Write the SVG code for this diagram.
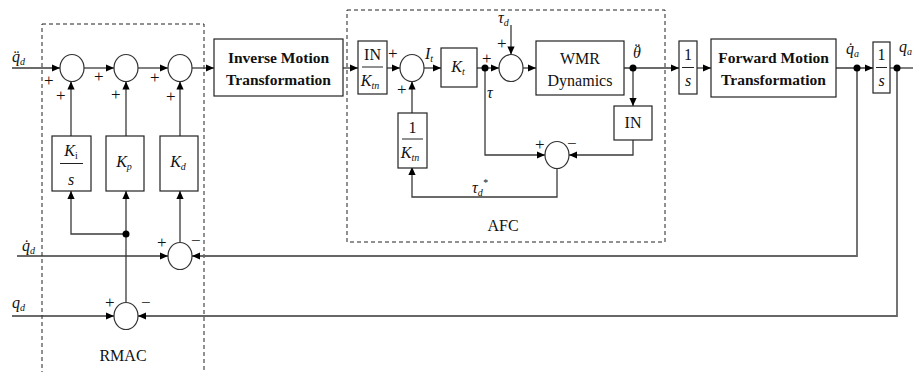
<svg xmlns="http://www.w3.org/2000/svg" width="913" height="372" viewBox="0 0 913 372" font-family="'Liberation Serif', 'DejaVu Serif', serif">
<style>
.blk{fill:#fff;stroke:#222;stroke-width:1.2}
.sum{fill:#fff;stroke:#333;stroke-width:1.2}
.ln{fill:none;stroke:#3a3a3a;stroke-width:1.3}
.fb{fill:none;stroke:#666;stroke-width:1.8}
.dash{fill:none;stroke:#222;stroke-width:1;stroke-dasharray:4,3}
text{font-family:'Liberation Serif','DejaVu Serif',serif;fill:#111}
.b{font-weight:bold;font-size:15.5px}
.r{font-size:16px}
.m{font-style:italic;font-size:16px}
.s{font-size:10px}
.pm{font-size:17px}
.dot{fill:#000}
.fl{stroke:#222;stroke-width:1}
</style>
<defs>
<marker id="ar" viewBox="0 0 10 10" refX="10" refY="5" markerWidth="9" markerHeight="8" markerUnits="userSpaceOnUse" orient="auto">
<path d="M0,0.5 L10,5 L0,9.5 z" fill="#000"/>
</marker>
</defs>

<rect class="dash" x="42" y="24" width="162" height="360"/>
<rect class="dash" x="347" y="10" width="318" height="232"/>
<text class="r" x="123" y="361" text-anchor="middle">RMAC</text>
<text class="r" x="503" y="231" text-anchor="middle">AFC</text>

<g id="connectors">
<path class="ln" d="M12,68 H60" marker-end="url(#ar)"/>
<path class="ln" d="M84,68 H114" marker-end="url(#ar)"/>
<path class="ln" d="M138,68 H168" marker-end="url(#ar)"/>
<path class="ln" d="M192,68 H214" marker-end="url(#ar)"/>
<path class="ln" d="M71,136 V81.5" marker-end="url(#ar)"/>
<path class="ln" d="M126,136 V81.5" marker-end="url(#ar)"/>
<path class="ln" d="M180,136 V81.5" marker-end="url(#ar)"/>
<path class="ln" d="M126,234 H71 V191" marker-end="url(#ar)"/>
<path class="ln" d="M126,302.5 V191" marker-end="url(#ar)"/>
<path class="ln" d="M180,242.5 V191" marker-end="url(#ar)"/>
<path class="ln" d="M17,256 H168" marker-end="url(#ar)"/>
<path class="ln" d="M12,316 H114" marker-end="url(#ar)"/>
<path class="ln" d="M343,68 H358" marker-end="url(#ar)"/>
<path class="ln" d="M387,68 H400" marker-end="url(#ar)"/>
<path class="ln" d="M412,113 V81.5" marker-end="url(#ar)"/>
<path class="ln" d="M424,68 H441" marker-end="url(#ar)"/>
<path class="ln" d="M477,68 H499" marker-end="url(#ar)"/>
<path class="ln" d="M511,25 V54.5" marker-end="url(#ar)"/>
<path class="ln" d="M523,68 H536" marker-end="url(#ar)"/>
<path class="ln" d="M624,68 H679" marker-end="url(#ar)"/>
<path class="ln" d="M633,68 V106" marker-end="url(#ar)"/>
<path class="ln" d="M633,140 V155 H569" marker-end="url(#ar)"/>
<path class="ln" d="M485,68 V155 H545" marker-end="url(#ar)"/>
<path class="ln" d="M557,168.5 V197 H412 V167" marker-end="url(#ar)"/>
<path class="ln" d="M697,68 H711" marker-end="url(#ar)"/>
<path class="ln" d="M836,68 H873" marker-end="url(#ar)"/>
<path class="ln" d="M890,68 H913"/>
<path class="fb" d="M857,68 V256 H192" marker-end="url(#ar)"/>
<path class="fb" d="M897,68 V316 H138" marker-end="url(#ar)"/>
<circle class="dot" cx="126" cy="234" r="3.5"/>
<circle class="dot" cx="485" cy="68" r="3.5"/>
<circle class="dot" cx="633" cy="68" r="3.5"/>
<circle class="dot" cx="857" cy="68" r="3.5"/>
<circle class="dot" cx="897" cy="68" r="3.5"/>
</g>

<g id="labels">
<text class="m" x="12" y="62">q̈<tspan class="s" dy="3">d</tspan></text>
<text class="m" x="22" y="251">q̇<tspan class="s" dy="3">d</tspan></text>
<text class="m" x="12" y="308">q<tspan class="s" dy="3">d</tspan></text>
<text class="m" x="425" y="59">I<tspan class="s" dy="3">t</tspan></text>
<text class="m" x="487" y="98">τ</text>
<text class="m" x="498" y="23">τ<tspan class="s" dy="3">d</tspan></text>
<text class="m" x="472" y="193">τ<tspan class="s" dy="3">d</tspan><tspan class="s" dy="-10">*</tspan></text>
<text class="m" x="633" y="58">θ<tspan dx="-6" dy="-3" font-style="normal">¨</tspan></text>
<text class="m" x="846" y="54">q̇<tspan class="s" dy="3">a</tspan></text>
<text class="m" x="899" y="52">q<tspan class="s" dy="3">a</tspan></text>
<text class="pm" x="44" y="86">+</text>
<text class="pm" x="56" y="101">+</text>
<text class="pm" x="94" y="82">+</text>
<text class="pm" x="111" y="100">+</text>
<text class="pm" x="150" y="83">+</text>
<text class="pm" x="166" y="102">+</text>
<text class="pm" x="157" y="248">+</text>
<text class="pm" x="191" y="246">−</text>
<text class="pm" x="105" y="308">+</text>
<text class="pm" x="141" y="308">−</text>
<text class="pm" x="388" y="59">+</text>
<text class="pm" x="397" y="95">+</text>
<text class="pm" x="482" y="64">+</text>
<text class="pm" x="497" y="49">+</text>
<text class="pm" x="535" y="150">+</text>
<text class="pm" x="567" y="149">−</text>
</g>

<g id="sum1"><ellipse class="sum" cx="72" cy="68" rx="12" ry="13.5"/></g>
<g id="sum2"><ellipse class="sum" cx="126" cy="68" rx="12" ry="13.5"/></g>
<g id="sum3"><ellipse class="sum" cx="180" cy="68" rx="12" ry="13.5"/></g>
<g id="sumKd"><ellipse class="sum" cx="180" cy="256" rx="12" ry="13.5"/></g>
<g id="sumKp"><ellipse class="sum" cx="126" cy="316" rx="12" ry="13.5"/></g>
<g id="sumAFC1"><ellipse class="sum" cx="412" cy="68" rx="12" ry="13.5"/></g>
<g id="sumAFC2"><ellipse class="sum" cx="511" cy="68" rx="12" ry="13.5"/></g>
<g id="sumAFC3"><ellipse class="sum" cx="557" cy="155" rx="12" ry="13.5"/></g>

<g id="Ki">
<rect class="blk" x="52" y="136" width="39" height="55"/>
<text class="m" x="71" y="156" text-anchor="middle">K<tspan class="s" font-style="normal" dy="3">i</tspan></text>
<line class="fl" x1="60" y1="163.5" x2="83" y2="163.5"/>
<text class="m" x="71" y="185" text-anchor="middle">s</text>
</g>
<g id="Kp">
<rect class="blk" x="106" y="136" width="38" height="55"/>
<text class="m" x="124" y="167" text-anchor="middle">K<tspan class="s" dy="3">p</tspan></text>
</g>
<g id="Kd">
<rect class="blk" x="160" y="136" width="38" height="55"/>
<text class="m" x="178" y="167" text-anchor="middle">K<tspan class="s" dy="3">d</tspan></text>
</g>

<g id="inverse">
<rect class="blk" x="214" y="39" width="129" height="57"/>
<text class="b" x="278.5" y="63" text-anchor="middle">Inverse Motion</text>
<text class="b" x="278.5" y="85" text-anchor="middle">Transformation</text>
</g>

<g id="INKtn">
<rect class="blk" x="358" y="41" width="29" height="53"/>
<text class="r" x="372.5" y="60" text-anchor="middle">IN</text>
<line class="fl" x1="362" y1="67" x2="383" y2="67"/>
<text class="m" x="370" y="86" text-anchor="middle">K<tspan class="s" dy="3">tn</tspan></text>
</g>

<g id="invKtn">
<rect class="blk" x="398" y="113" width="29" height="55"/>
<text class="r" x="412.5" y="133" text-anchor="middle">1</text>
<line class="fl" x1="402" y1="139" x2="423" y2="139"/>
<text class="m" x="410" y="158" text-anchor="middle">K<tspan class="s" dy="3">tn</tspan></text>
</g>

<g id="Kt">
<rect class="blk" x="441" y="48" width="36" height="39"/>
<text class="m" x="458" y="72" text-anchor="middle">K<tspan class="s" dy="3">t</tspan></text>
</g>

<g id="wmr">
<rect class="blk" x="536" y="41" width="88" height="54"/>
<text class="r" x="580" y="64" text-anchor="middle">WMR</text>
<text class="r" x="580" y="86" text-anchor="middle">Dynamics</text>
</g>

<g id="IN">
<rect class="blk" x="614" y="106" width="38" height="34"/>
<text class="r" x="633" y="128" text-anchor="middle">IN</text>
</g>

<g id="int1">
<rect class="blk" x="679" y="41" width="18" height="53"/>
<text class="r" x="688" y="60" text-anchor="middle">1</text>
<line class="fl" x1="682" y1="67.5" x2="694" y2="67.5"/>
<text class="m" x="688" y="86" text-anchor="middle">s</text>
</g>

<g id="forward">
<rect class="blk" x="711" y="39" width="125" height="58"/>
<text class="b" x="773.5" y="63" text-anchor="middle">Forward Motion</text>
<text class="b" x="773.5" y="85" text-anchor="middle">Transformation</text>
</g>

<g id="int2">
<rect class="blk" x="873" y="42" width="17" height="51"/>
<text class="r" x="881.5" y="60" text-anchor="middle">1</text>
<line class="fl" x1="876" y1="67.5" x2="887" y2="67.5"/>
<text class="m" x="881.5" y="86" text-anchor="middle">s</text>
</g>
</svg>
